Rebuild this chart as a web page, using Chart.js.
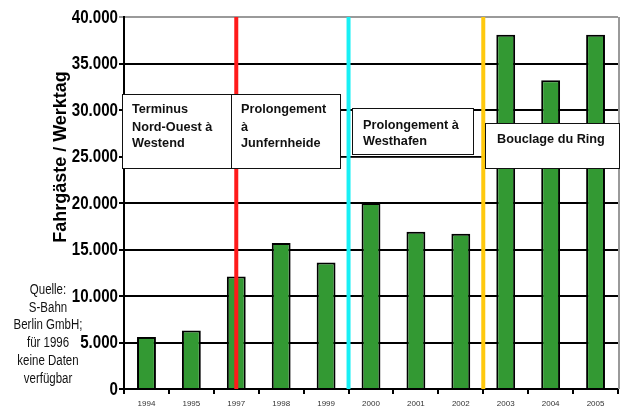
<!DOCTYPE html>
<html>
<head>
<meta charset="utf-8">
<script src="https://cdn.jsdelivr.net/npm/chart.js@4/dist/chart.umd.min.js"></script>
<style>
html,body{margin:0;padding:0;background:#fff;}
canvas{display:block;}
</style>
</head>
<body>
<canvas id="c" width="623" height="410"></canvas>
<script>
// ---- data ----
const categories = ['1994','1995','1997','1998','1999','2000','2001','2002','2003','2004','2005'];
const ridership = [5600, 6300, 12100, 15700, 13600, 20000, 16900, 16700, 38100, 33200, 38100];
const yTickValues = [0, 5000, 10000, 15000, 20000, 25000, 30000, 35000, 40000];
const yTitle = 'Fahrgäste / Werktag';
const sourceNote = ['Quelle:', 'S-Bahn', 'Berlin GmbH;', 'für 1996', 'keine Daten', 'verfügbar'];
// milestone lines: position on category axis (index; .5 = between categories)
const milestonePositions = [2, 4.5, 7.5];
const milestoneColors = ['#ff1a1a', '#19f0f5', '#ffc90e'];
const boxTexts = [
  ['Terminus', 'Nord-Ouest à', 'Westend'],
  ['Prolongement', 'à', 'Junfernheide'],
  ['Prolongement à', 'Westhafen'],
  ['Bouclage du Ring']
];

const SANS = '"Liberation Sans", Arial, sans-serif';
const fmt = v => String(v).replace(/\B(?=(\d{3})+(?!\d))/g, '.');

// box layout (pixels)
const boxes = [
  {x:122, y:94, w:109, h:74, tx:132, ty:[109, 127, 143]},
  {x:231, y:94, w:109, h:74, tx:241, ty:[109, 127, 143]},
  {x:352, y:108, w:121, h:46, tx:363, ty:[125, 141]},
  {x:485, y:123, w:134, h:45, tx:497, ty:[139]}
];

// draw text horizontally condensed
function narrowText(ctx, t, x, y, sx) {
  ctx.save();
  ctx.translate(x, y);
  ctx.scale(sx, 1);
  ctx.fillText(t, 0, 0);
  ctx.restore();
}

const overlay = {
  id: 'overlay',
  afterDraw(chart) {
    const ctx = chart.ctx;
    const ca = chart.chartArea;
    const xs = chart.scales.x;
    const ys = chart.scales.y;
    ctx.save();
    // y tick labels (condensed bold)
    ctx.font = 'bold 18px ' + SANS;
    ctx.fillStyle = '#000';
    ctx.textAlign = 'right';
    ctx.textBaseline = 'middle';
    ys.ticks.forEach(t => narrowText(ctx, fmt(t.value), 118, ys.getPixelForValue(t.value) + 1, 0.84));
    // right gray frame
    ctx.strokeStyle = '#9a9a9a';
    ctx.lineWidth = 2;
    ctx.beginPath();
    ctx.moveTo(ca.right + 1, ca.top);
    ctx.lineTo(ca.right + 1, ca.bottom);
    ctx.stroke();
    // connector line
    ctx.strokeStyle = '#333';
    ctx.lineWidth = 1;
    ctx.beginPath();
    ctx.moveTo(340, 157.5);
    ctx.lineTo(482, 157.5);
    ctx.stroke();
    // milestone lines
    milestonePositions.forEach((p, i) => {
      const x = xs.getPixelForValue(p);
      ctx.strokeStyle = milestoneColors[i];
      ctx.lineWidth = 4;
      ctx.beginPath();
      ctx.moveTo(x, ca.top);
      ctx.lineTo(x, ca.bottom);
      ctx.stroke();
    });
    // boxes
    boxes.forEach((b, i) => {
      ctx.fillStyle = '#fff';
      ctx.fillRect(b.x, b.y, b.w, b.h);
      ctx.strokeStyle = '#111';
      ctx.lineWidth = 1;
      ctx.strokeRect(b.x + 0.5, b.y + 0.5, b.w, b.h);
      ctx.fillStyle = '#111';
      ctx.font = 'bold 12.7px ' + SANS;
      ctx.textAlign = 'left';
      ctx.textBaseline = 'middle';
      boxTexts[i].forEach((t, j) => ctx.fillText(t, b.tx, b.ty[j]));
    });
    // y title
    ctx.save();
    ctx.translate(61, 157);
    ctx.rotate(-Math.PI / 2);
    ctx.font = 'bold 18px ' + SANS;
    ctx.fillStyle = '#000';
    ctx.textAlign = 'center';
    ctx.textBaseline = 'middle';
    ctx.fillText(yTitle, 0, 0);
    ctx.restore();
    // source note
    ctx.font = '14px ' + SANS;
    ctx.fillStyle = '#111';
    ctx.textAlign = 'center';
    ctx.textBaseline = 'middle';
    sourceNote.forEach((t, j) => narrowText(ctx, t, 48, 290 + j * 17.8, 0.82));
    ctx.restore();
  }
};

new Chart(document.getElementById('c'), {
  type: 'bar',
  data: {
    labels: categories,
    datasets: [{
      data: ridership,
      backgroundColor: '#339933',
      borderColor: '#000',
      borderWidth: 2,
      categoryPercentage: 1,
      barPercentage: 0.42
    }]
  },
  options: {
    responsive: false,
    animation: false,
    devicePixelRatio: 1,
    layout: {padding: {left: 0, right: 5, top: 17, bottom: 0}},
    plugins: {legend: {display: false}, tooltip: {enabled: false}},
    scales: {
      x: {
        afterFit(s) { s.height = 21; },
        grid: {drawOnChartArea: false, drawTicks: true, tickLength: 5, color: '#000', lineWidth: 2},
        border: {color: '#000', width: 2},
        ticks: {font: {family: SANS, size: 8}, color: '#333', padding: 5, maxRotation: 0, autoSkip: false}
      },
      y: {
        min: 0, max: 40000,
        afterFit(s) { s.width = 124; },
        afterBuildTicks(s) { s.ticks = yTickValues.map(v => ({value: v})); },
        grid: {
          color: c => (c.tick && c.tick.value === 40000) ? '#9a9a9a' : '#000',
          lineWidth: 2, tickLength: 5
        },
        border: {color: '#000', width: 2},
        ticks: {display: false}
      }
    }
  },
  plugins: [overlay]
});
</script>
</body>
</html>
